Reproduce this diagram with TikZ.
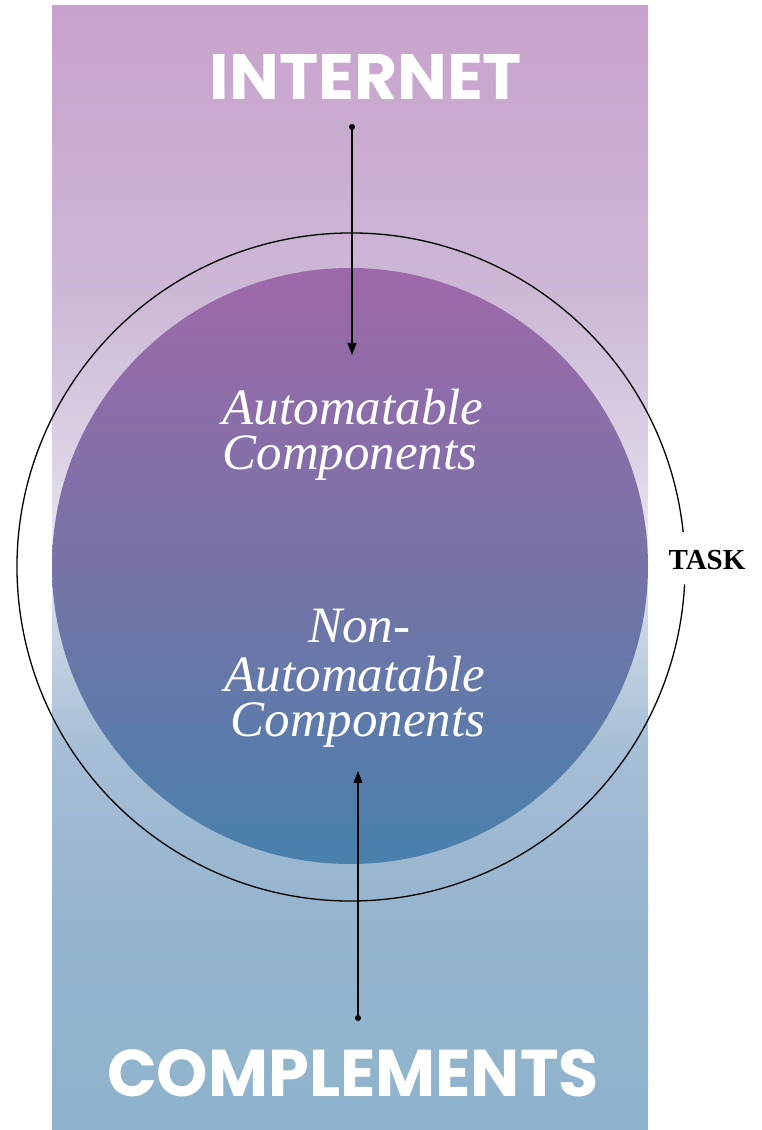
\documentclass[tikz,border=0pt]{standalone}
\usepackage{fontspec}
\usepackage{graphicx}
\usetikzlibrary{arrows.meta}
\setmainfont{Liberation Serif}
\newfontfamily\headfont{Poppins}
\definecolor{bgtop}{HTML}{C8A2CC}
\definecolor{bgtb}{HTML}{CDB8D6}
\definecolor{bgtc}{HTML}{DBD2E5}
\definecolor{bgmid}{HTML}{E7E6EF}
\definecolor{bgbc}{HTML}{CBD6E4}
\definecolor{bgbb}{HTML}{A6BED5}
\definecolor{bgba}{HTML}{96B5CE}
\definecolor{bgbot}{HTML}{8FB3CD}
\definecolor{cirtop}{HTML}{9E68AA}
\definecolor{cirmid}{HTML}{7773A7}
\definecolor{cirbot}{HTML}{4881AC}
\pgfdeclareverticalshading{bgshade}{100bp}{color(0bp)=(bgbot); color(25bp)=(bgbot); color(35bp)=(bgba); color(42bp)=(bgbb); color(47.5bp)=(bgbc); color(51bp)=(bgmid); color(55bp)=(bgtc); color(62bp)=(bgtb); color(75bp)=(bgtop); color(100bp)=(bgtop)}
\tikzset{
  comp/.style={anchor=base, text=white, inner sep=0pt, font=\fontsize{51}{51}\selectfont\itshape},
  head/.style={anchor=base, text=white, inner sep=0pt},
  dotnode/.style={circle, fill=black, inner sep=0pt, minimum size=6pt},
  link/.style={line width=1.2pt, black, -{Triangle[length=12pt,width=9pt]}},
}
\begin{document}
\begin{tikzpicture}[x=1pt,y=1pt]
\useasboundingbox (0,0) rectangle (761,1130);
% background band
\shade[shading=bgshade] (52,0) rectangle (648,1124);
% task circle with a gap at the label
\coordinate (c) at (351,563);
\draw[line width=1.3pt, black] (c) ++(6:334) arc[start angle=6, end angle=357, radius=334];
% filled circle
\shade[top color=cirtop, bottom color=cirbot, middle color=cirmid] (350,564) circle (298);
% headings
\node[head] (internet) at (366,1030) {\resizebox{312pt}{45pt}{\headfont\bfseries INTERNET}};
\node[head] (complements) at (353,33) {\resizebox{492pt}{47pt}{\headfont\bfseries COMPLEMENTS}};
% inner texts
\node[comp] (a1) at (353,705) {Automatable};
\node[comp] (a2) at (350,660) {Components};
\node[comp] (n1) at (359,487) {Non-};
\node[comp] (n2) at (355,438) {Automatable};
\node[comp] (n3) at (358,393) {Components};
% task label
\node[anchor=base, inner sep=0pt, font=\fontsize{29}{29}\selectfont\bfseries] (task) at (707,560) {TASK};
% arrows
\node[dotnode] (d1) at (352,1003) {};
\coordinate (t1) at (352,775);
\draw[link] (d1.center) -- (t1);
\node[dotnode] (d2) at (358,112) {};
\coordinate (t2) at (358,359);
\draw[link] (d2.center) -- (t2);
\end{tikzpicture}
\end{document}
